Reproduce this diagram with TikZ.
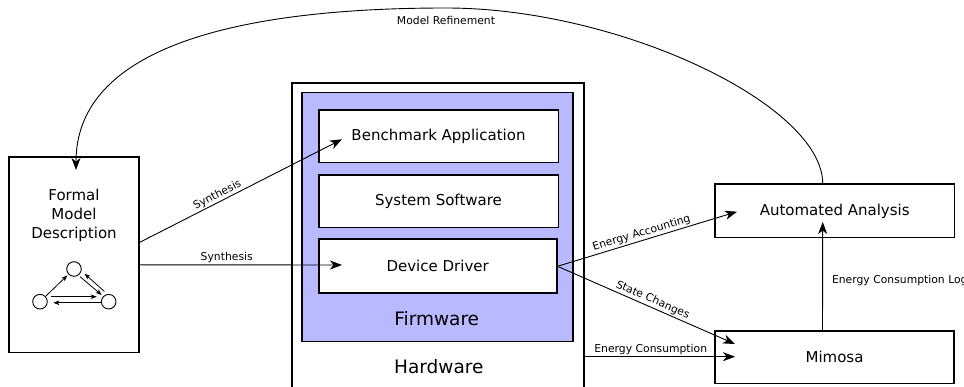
\documentclass[tikz,border=0pt]{standalone}
\usepackage{fontspec}
\setmainfont{DejaVu Sans}
\usetikzlibrary{arrows.meta}
\definecolor{fwblue}{RGB}{185,185,255}

\begin{document}
\begin{tikzpicture}[x=1pt,y=-1pt,
                box/.style={draw,line width=1.6pt,fill=white,inner sep=0pt,font=\fontsize{15}{19}\selectfont},
                big/.style={font=\fontsize{18.5}{22}\selectfont},
                flow/.style={-{Stealth[length=12pt,width=9pt,inset=3.5pt]},line width=0.9pt},
                lbl/.style={font=\fontsize{10.8}{12}\selectfont,inner sep=1.5pt},
                state/.style={draw,circle,line width=0.9pt,minimum size=14.6pt,inner sep=0pt},
                tiny/.style={-{Stealth[length=6pt,width=4.5pt,inset=1.5pt]},line width=0.8pt}]
                \useasboundingbox (0,0) rectangle (964,387);
                \node[box,minimum width=292pt,minimum height=320pt,anchor=north west] (hw) at (291,82) {};
                \node[big] (hwname) at (438.8,366.7) {Hardware};
                \node[box,fill=fwblue,minimum width=271pt,minimum height=249pt] (fw) at (437.2,217.2) {};
                \node[big] (fwname) at (436.7,318.3) {Firmware};
                \node[box,minimum width=239.6pt,minimum height=52.7pt] (bench) at (438.5,136.3) {Benchmark Application};
                \node[box,minimum width=239.6pt,minimum height=52.3pt] (syssw) at (438.5,201.2) {System Software};
                \node[box,minimum width=238pt,minimum height=54pt] (driver) at (437.7,266.3) {Device Driver};
                \node[box,minimum width=239.3pt,minimum height=53.4pt] (analysis) at (834.7,211) {Automated Analysis};
                \node[box,minimum width=239pt,minimum height=52.3pt] (mimosa) at (834.5,357.2) {Mimosa};
                \node[box,minimum width=130pt,minimum height=195.5pt] (formal) at (74,254.8) {};
                \node[font=\fontsize{15}{19}\selectfont,align=center] (formalname) at (74,215.5) {Formal\\Model\\Description};
                \node[state] (s1) at (40,301.7) {};
                \node[state] (s2) at (74,269) {};
                \node[state] (s3) at (108.7,301.7) {};
                \draw[tiny,shorten >=1.5pt] (s1) -- (s2);
                \draw[tiny,shorten <=2pt,shorten >=2pt] (s2.-55) -- (s3.135);
                \draw[tiny,shorten <=4pt,shorten >=4pt] (s3.100) -- (s2.-15);
                \draw[tiny,shorten <=5.5pt,shorten >=6pt] (s1.40) -- (s3.140);
                \draw[tiny,shorten >=5.6pt] (s3.188) -- (s1.-8);
                \coordinate (benchIn) at (342,139.3);
                \coordinate (driverIn) at (342,265);
                \coordinate (analysisIn) at (737,211.7);
                \coordinate (mimosaIn) at (735,344);
                \coordinate (powerIn) at (735,356.7);
                \coordinate (logIn) at (822.7,222);
                \coordinate (formalIn) at (76,170);
                \coordinate (top) at (446,8);
                \draw[flow] ([yshift=12.5pt]formal.east) -- (benchIn) node[lbl,pos=0.4,above,sloped]{Synthesis};
                \draw[flow] ([yshift=-10pt]formal.east) -- (driverIn) node[lbl,pos=0.43,above]{Synthesis};
                \draw[flow] (driver.east) -- (analysisIn) node[lbl,pos=0.48,above,sloped]{Energy Accounting};
                \draw[flow] (driver.east) -- (mimosaIn) node[lbl,pos=0.52,above,sloped]{State Changes};
                \draw[flow] (hw.east |- powerIn) -- (powerIn) node[lbl,pos=0.44,above]{Energy Consumption};
                \draw[flow] ([xshift=-12pt]mimosa.north) -- (logIn) node[lbl,pos=0.46,right=7.5pt]{Energy Consumption Log};
                \draw[flow] ([xshift=-12pt]analysis.north) .. controls (822.7,105) and (620,8) .. (top) node[lbl,below=6pt]{Model Refinement} .. controls (230,8) and (76,50) .. (formalIn);
\end{tikzpicture}
\end{document}
